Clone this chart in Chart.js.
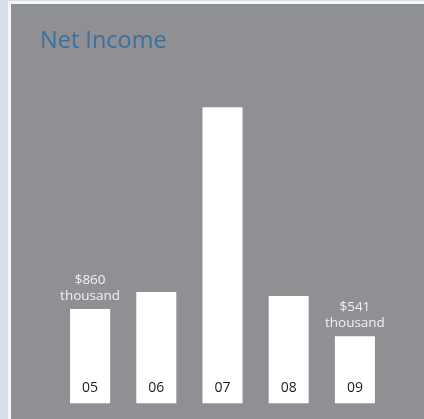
<!DOCTYPE html>
<html>
<head>
<meta charset="utf-8">
<script src="https://cdn.jsdelivr.net/npm/chart.js@4.4.1/dist/chart.umd.min.js"></script>
<style>
    html, body { margin: 0; padding: 0; }
    body { width: 424px; height: 419px; background: #d6dfe7; position: relative; overflow: hidden; }
    .panel {
        position: absolute; left: 8px; top: 1px; right: 0; bottom: 0;
        background: #8f9094;
        border-left: 3px solid #f4f6f8;
        border-top: 3px solid #f4f6f8;
    }
    #incomeChart { position: absolute; left: 0; top: 0; }
</style>
</head>
<body>
<div class="panel"></div>
<canvas id="incomeChart" width="424" height="419"></canvas>
<script>
// fiscal years and net income, in thousands of dollars
const years = ['05', '06', '07', '08', '09'];
const netIncome = [860, 1060, 3235, 1015, 541];
// only the first and last year get a value note above the bar
const showNote = [true, false, false, false, true];

const yFloor = -250;
const yTop = 3500;

// year label inside each bar, and the "$x thousand" note above some of them
const barText = {
    id: 'barText',
    afterDatasetsDraw(chart) {
        const ctx = chart.ctx;
        const meta = chart.getDatasetMeta(0);
        ctx.save();
        ctx.textAlign = 'center';
        ctx.textBaseline = 'middle';
        meta.data.forEach((bar, i) => {
            ctx.font = '14px "Open Sans"';
            ctx.fillStyle = '#1b1b1b';
            ctx.fillText(years[i], bar.x, bar.base - 15);
            if (showNote[i]) {
                ctx.font = '13.5px "Open Sans"';
                ctx.fillStyle = '#f2f2f2';
                ctx.fillText('$' + netIncome[i], bar.x, bar.y - 29);
                ctx.fillText('thousand', bar.x, bar.y - 13);
            }
        });
        ctx.restore();
    }
};

var myChart = new Chart(document.getElementById('incomeChart').getContext('2d'), {
    type: 'bar',
    data: {
        labels: years,
        datasets: [{
            data: netIncome,
            base: yFloor,
            backgroundColor: '#ffffff',
            borderWidth: 0,
            barPercentage: 0.605,
            categoryPercentage: 1
        }]
    },
    options: {
        responsive: false,
        animation: false,
        layout: {
            padding: { left: 40, right: 36, top: 27, bottom: 15.5 }
        },
        plugins: {
            legend: { display: false },
            tooltip: { enabled: false },
            title: {
                display: true,
                text: 'Net Income',
                align: 'start',
                color: '#3b7098',
                font: { family: 'Open Sans', size: 23.5, weight: 'normal', lineHeight: 1.2 },
                padding: { top: 0, bottom: 29.4 }
            }
        },
        scales: {
            x: {
                display: false,
                grid: { display: false }
            },
            y: {
                min: yFloor,
                max: yTop,
                ticks: { display: false },
                grid: { display: false },
                border: { display: false },
                afterFit: (scale) => { scale.width = 17; }
            }
        }
    },
    plugins: [barText]
});
</script>
</body>
</html>
